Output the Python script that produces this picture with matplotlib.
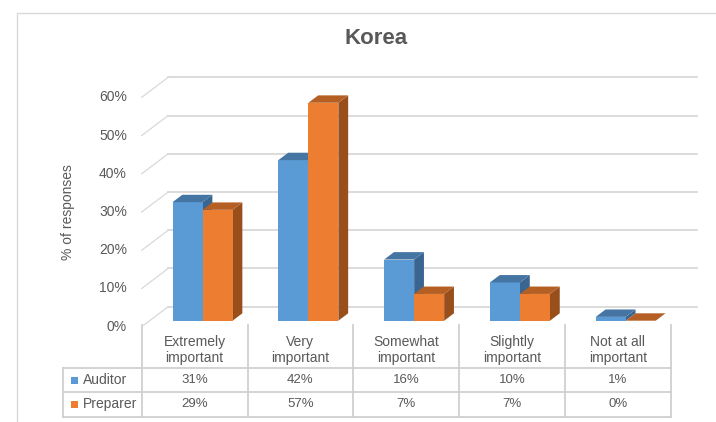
import numpy as np
import matplotlib.pyplot as plt
from matplotlib.patches import Polygon, Rectangle

# datos de la encuesta (porcentaje de respuestas)
categories = ["Extremely\nimportant", "Very\nimportant", "Somewhat\nimportant",
              "Slightly\nimportant", "Not at all\nimportant"]
series = ["Auditor", "Preparer"]
auditor = [31, 42, 16, 10, 1]
preparer = [29, 57, 7, 7, 0]
yticks = [0, 10, 20, 30, 40, 50, 60]

front_cols = ["#5b9bd5", "#ed7d31"]
top_cols = ["#4575a3", "#b55f24"]
side_cols = ["#3b6591", "#984f1c"]
grid_col = "#d9d9d9"
txt_col = "#595959"

plt.rcParams['font.family'] = ['Liberation Sans', 'DejaVu Sans']

W, H = 716, 422
fig = plt.figure(figsize=(W / 100, H / 100), dpi=100)

# capa en pixeles para titulo, borde y tabla
ov = fig.add_axes([0, 0, 1, 1])
ov.set_xlim(0, W)
ov.set_ylim(H, 0)
ov.axis('off')

# plano frontal del grafico 3D
col0, colw = 141.7, 105.8
ytop, ybot = 97.3, 326.7
ax = fig.add_axes([col0 / W, 1 - ybot / H, 5 * colw / W, (ybot - ytop) / H])
ax.set_xlim(-0.5, 4.5)
ax.set_ylim(0, 60)
ax.axis('off')

DX = 26.5 / colw       # profundidad en unidades de categoria
DY = 20.0 / ((ybot - ytop) / 60)  # profundidad en unidades de %
z0, bd = 0.3, 0.37     # posicion y grosor de las barras en profundidad
bw = 30 / colw

# pared trasera y lateral
for v in yticks:
    ax.plot([-0.5 + DX, 4.5 + DX], [v + DY, v + DY], color=grid_col, lw=1.3,
            clip_on=False, zorder=1)
    ax.plot([-0.5, -0.5 + DX], [v, v + DY], color=grid_col, lw=0.9,
            clip_on=False, zorder=1)
    ax.text(-0.64, v, "%d%%" % v, ha='right', va='center', fontsize=10,
            color=txt_col, clip_on=False)


def bar3d(x0, v, k):
    sx, base = z0 * DX, z0 * DY
    xl, xr = x0 + sx, x0 + bw + sx
    ddx, ddy = bd * DX, bd * DY
    ax.add_patch(Polygon([(xr, base), (xr, base + v), (xr + ddx, base + v + ddy),
                          (xr + ddx, base + ddy)], closed=True, fc=side_cols[k],
                         ec='none', clip_on=False, zorder=3))
    ax.add_patch(Rectangle((xl, base), bw, v, fc=front_cols[k], ec='none',
                           clip_on=False, zorder=3))
    ax.add_patch(Polygon([(xl, base + v), (xr, base + v), (xr + ddx, base + v + ddy),
                          (xl + ddx, base + v + ddy)], closed=True, fc=top_cols[k],
                         ec='none', clip_on=False, zorder=3))


for i in range(len(categories)):
    bar3d(i - bw, auditor[i], 0)
    bar3d(i, preparer[i], 1)

# titulo y eje y
ov.text(376, 38, "Korea", ha='center', va='center', fontsize=16,
        fontweight='bold', color=txt_col)
ov.text(68, 212, "% of responses", ha='center', va='center', rotation=90,
        fontsize=10, color=txt_col)

# borde del area del grafico
ov.plot([17.3, 17.3, W], [H, 12.7, 12.7], color=grid_col, lw=1)

# tabla de datos
r0, r1, r2 = 368.3, 392.2, 416.7
lab0 = 63.3
tc = "#d0d0d0"
for j in range(6):
    x = col0 + j * colw
    ov.plot([x, x], [325, r2], color=tc, lw=1.3)
for y in (r0, r1, r2):
    ov.plot([lab0, col0 + 5 * colw], [y, y], color=tc, lw=1.3)
ov.plot([lab0, lab0], [r0, r2], color=tc, lw=1.3)

for i, c in enumerate(categories):
    xc = col0 + (i + 0.5) * colw
    ov.text(xc, 350, c, ha='center', va='center', fontsize=10, color=txt_col,
            linespacing=1.25)
    ov.text(xc, (r0 + r1) / 2, "%d%%" % auditor[i], ha='center', va='center',
            fontsize=9.5, color=txt_col)
    ov.text(xc, (r1 + r2) / 2, "%d%%" % preparer[i], ha='center', va='center',
            fontsize=9.5, color=txt_col)

for k, (s, ya, yb) in enumerate([(series[0], r0, r1), (series[1], r1, r2)]):
    ym = (ya + yb) / 2
    ov.add_patch(Rectangle((70.7, ym - 3.5), 7, 7, fc=front_cols[k], ec='none'))
    ov.text(82.5, ym, s, ha='left', va='center', fontsize=10, color=txt_col)

fig.savefig("out.png", dpi=100)
